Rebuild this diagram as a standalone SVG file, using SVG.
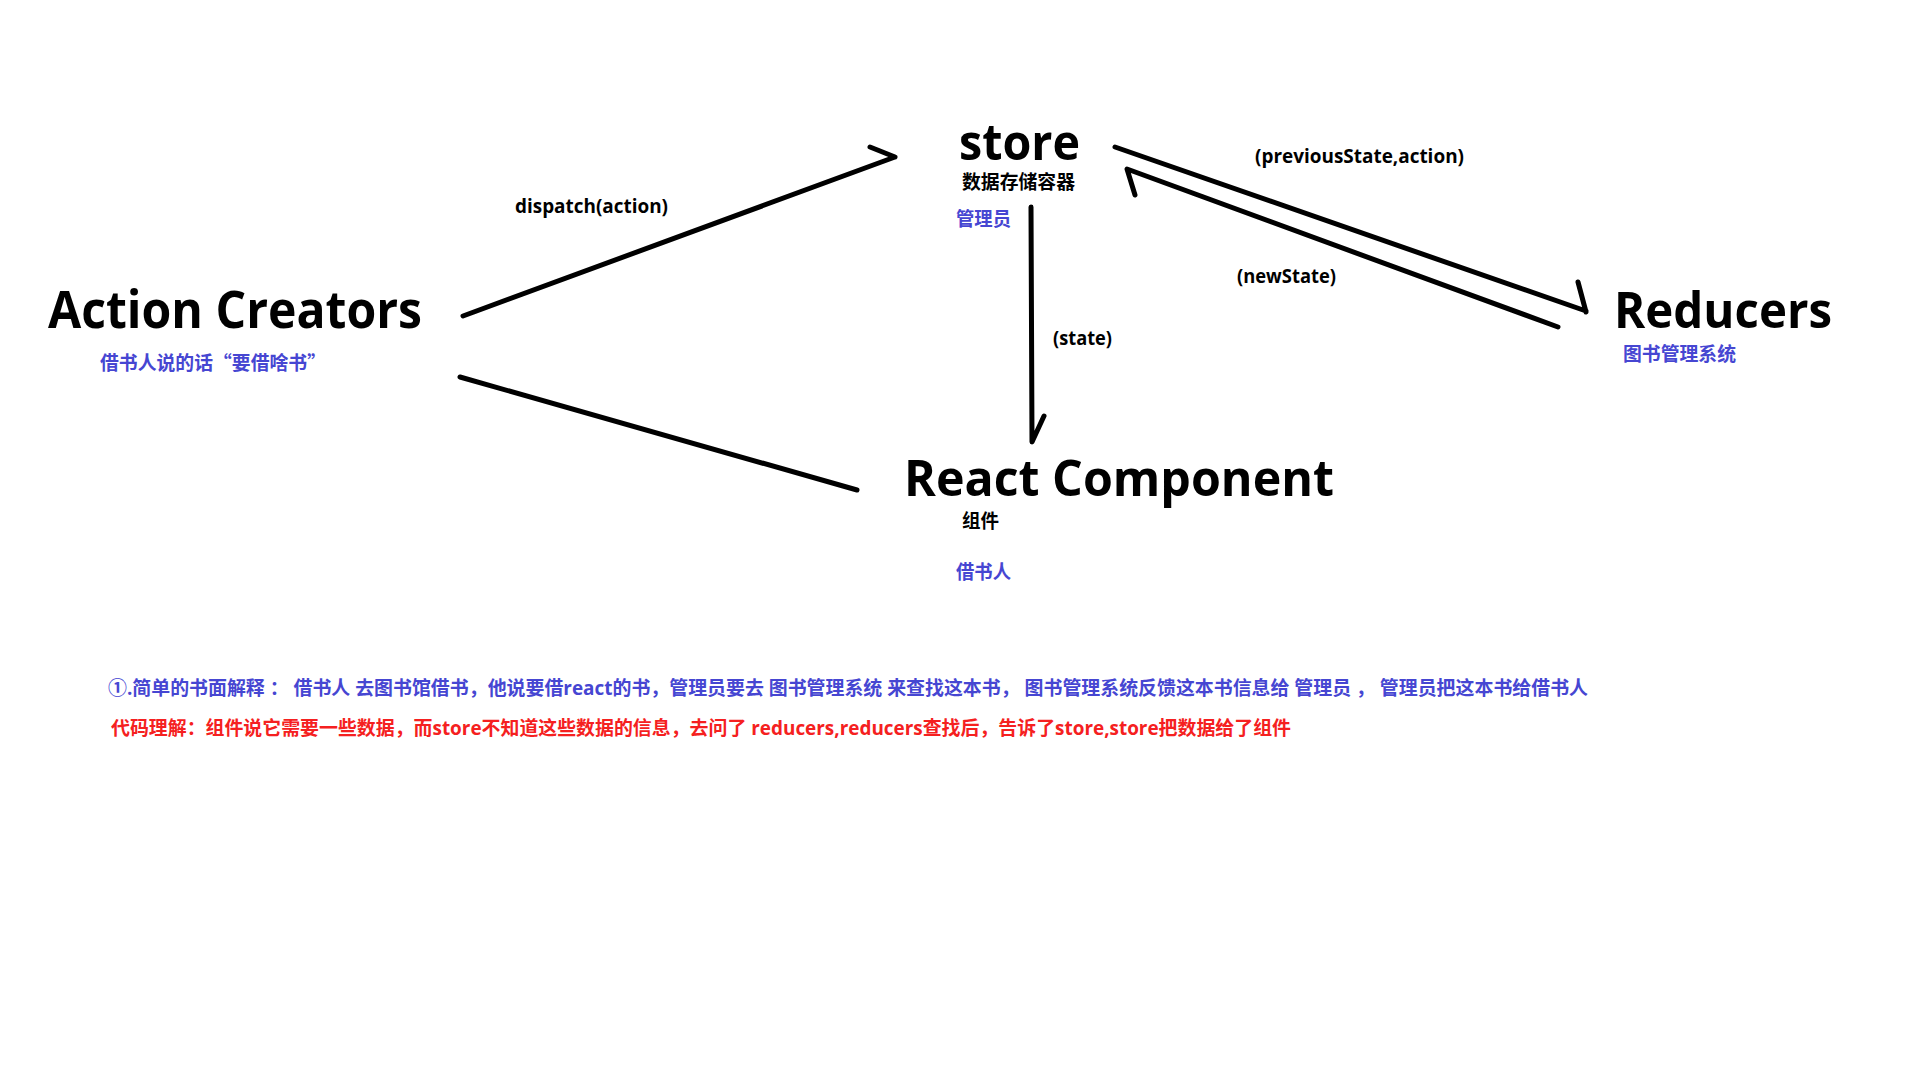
<svg xmlns="http://www.w3.org/2000/svg" width="1920" height="1080" viewBox="0 0 1920 1080">
<style>
text{font-family:"Open Sans","Noto Sans CJK SC",sans-serif;font-weight:bold;}
.title{font-size:50px;fill:#000;}
.lbl{font-size:19px;fill:#000;}
.cn{font-size:19px;fill:#000;}
.cjk{font-family:"Noto Sans CJK SC",sans-serif;}
.blue{fill:#4646D2;}
.red{fill:#F52020;}
.ln{stroke:#000;stroke-width:5;fill:none;stroke-linecap:round;stroke-linejoin:round;}
</style>
<rect x="0" y="0" width="1920" height="1080" fill="#fff"/>
<g id="connectors">
<path class="ln" d="M463,316 L895,157 M870,147 L895,157"/>
<path class="ln" d="M460,377 L857,490"/>
<path class="ln" d="M1031,207 L1032,442 L1044,416"/>
<path class="ln" d="M1115,147 L1586,311 M1578,282 L1586,312"/>
<path class="ln" d="M1558,327 L1127,169 L1135,195"/>
<text class="lbl" x="515" y="213" textLength="153" lengthAdjust="spacingAndGlyphs">dispatch(action)</text>
<text class="lbl" x="1255" y="163" textLength="209" lengthAdjust="spacingAndGlyphs">(previousState,action)</text>
<text class="lbl" x="1237" y="283" textLength="99" lengthAdjust="spacingAndGlyphs">(newState)</text>
<text class="lbl" x="1053" y="345" textLength="59" lengthAdjust="spacingAndGlyphs">(state)</text>
</g>
<g id="action-creators">
<text class="title" x="48" y="328" style="font-size:52px" textLength="374" lengthAdjust="spacingAndGlyphs">Action Creators</text>
<text class="cn cjk blue" x="100" y="370" textLength="226" lengthAdjust="spacingAndGlyphs">借书人说的话“要借啥书”</text>
</g>
<g id="store">
<text class="title" x="959" y="160" textLength="121" lengthAdjust="spacingAndGlyphs">store</text>
<text class="cn" x="962" y="189" textLength="113" lengthAdjust="spacingAndGlyphs">数据存储容器</text>
<text class="cn blue" x="956" y="226" textLength="55" lengthAdjust="spacingAndGlyphs">管理员</text>
</g>
<g id="react-component">
<text class="title" x="904" y="496" textLength="430" lengthAdjust="spacingAndGlyphs">React Component</text>
<text class="cn" x="962" y="528" textLength="37" lengthAdjust="spacingAndGlyphs">组件</text>
<text class="cn blue" x="956" y="579" textLength="55" lengthAdjust="spacingAndGlyphs">借书人</text>
</g>
<g id="reducers">
<text class="title" x="1614" y="328" textLength="218" lengthAdjust="spacingAndGlyphs">Reducers</text>
<text class="cn blue" x="1623" y="361" textLength="113" lengthAdjust="spacingAndGlyphs">图书管理系统</text>
</g>
<g id="notes">
<text class="cn blue" x="108" y="695" textLength="1480" lengthAdjust="spacingAndGlyphs">①.简单的书面解释 ： 借书人 去图书馆借书，他说要借react的书，管理员要去 图书管理系统 来查找这本书， 图书管理系统反馈这本书信息给 管理员 ， 管理员把这本书给借书人</text>
<text class="cn red" x="111" y="735" textLength="1180" lengthAdjust="spacingAndGlyphs">代码理解：组件说它需要一些数据，而store不知道这些数据的信息，去问了 reducers,reducers查找后，告诉了store,store把数据给了组件</text>
</g>
</svg>
